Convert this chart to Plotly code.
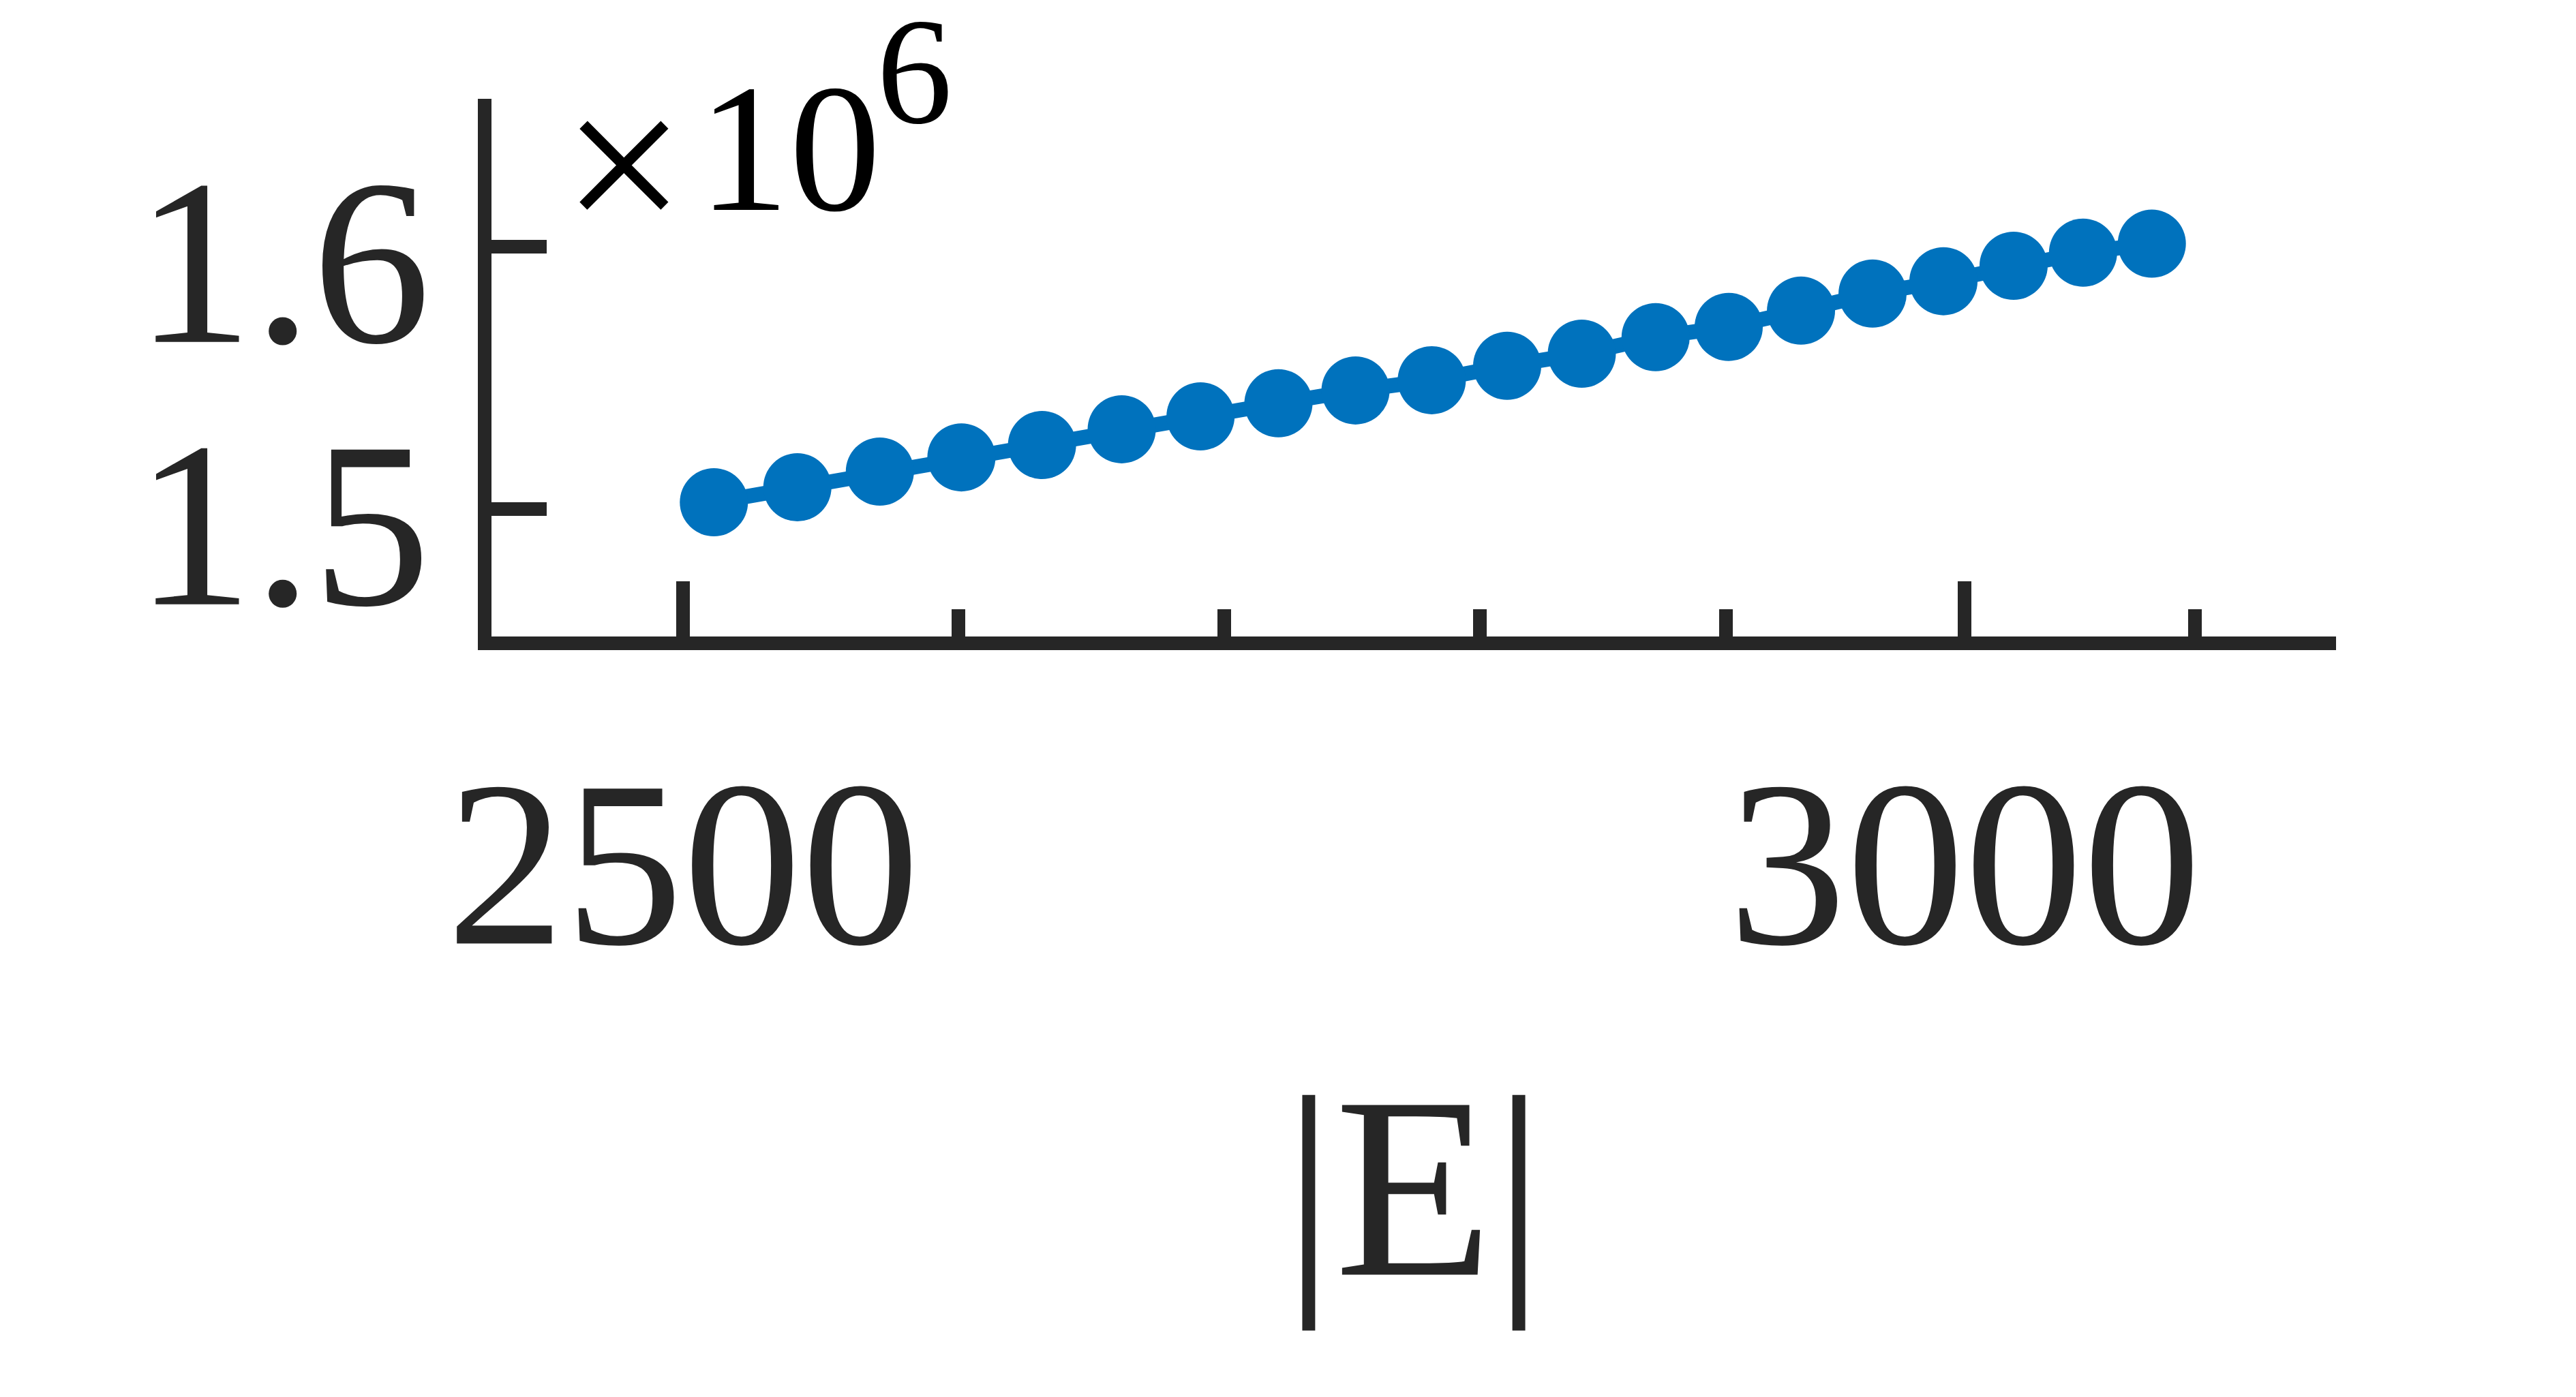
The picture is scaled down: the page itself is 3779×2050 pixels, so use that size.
import plotly.graph_objects as go

# |E| values (log x axis) and the plotted quantity (linear y axis, x 10^6)
edges = [2511, 2541, 2571, 2601, 2631, 2661, 2691, 2721, 2751, 2781,
         2811, 2841, 2871, 2901, 2931, 2961, 2991, 3021, 3051, 3081]
values = [1.5027e6, 1.5084e6, 1.5144e6, 1.5198e6, 1.5245e6, 1.5305e6, 1.5354e6,
          1.5404e6, 1.5453e6, 1.5492e6, 1.5547e6, 1.5593e6, 1.5656e6, 1.5695e6,
          1.5757e6, 1.5822e6, 1.5869e6, 1.5928e6, 1.5978e6, 1.6012e6]

x_ticks = [2500, 3000]
x_tick_labels = ["2500", "3000"]
x_minor_ticks = [2600, 2700, 2800, 2900, 3100]
y_ticks = [1.5e6, 1.6e6]
y_tick_labels = ["1.5", "1.6"]

serif = "Liberation Serif, Times New Roman, serif"
axis_col = "#262626"
blue = "#0072BD"

trace = go.Scatter(x=edges, y=values, mode="lines+markers",
                   line=dict(color=blue, width=22),
                   marker=dict(color=blue, size=100, line=dict(color=blue, width=0)),
                   showlegend=False)

fig = go.Figure(data=[trace])

# the page body adds an 8px margin, so the margins are shifted by that much
fig.update_layout(
    width=3779, height=2050,
    margin=dict(l=713, r=360, t=137, b=1124, autoexpand=False),
    paper_bgcolor="white", plot_bgcolor="white",
    font=dict(family=serif, color=axis_col),
    xaxis=dict(type="log", range=[3.386105, 3.500075],
               tickmode="array", tickvals=x_ticks, ticktext=x_tick_labels,
               ticks="inside", ticklen=81, tickwidth=20, tickcolor=axis_col,
               minor=dict(tickmode="array", tickvals=x_minor_ticks, ticks="inside",
                          ticklen=40, tickwidth=20, tickcolor=axis_col, showgrid=False),
               showline=True, linewidth=20, linecolor=axis_col,
               showgrid=False, zeroline=False, automargin=False,
               tickfont=dict(family=serif, size=347, color=axis_col),
               ticklabelstandoff=14,
               title=dict(text="|E|", font=dict(family=serif, size=380, color=axis_col),
                          standoff=155)),
    yaxis=dict(range=[1.45156e6, 1.65639e6],
               tickmode="array", tickvals=y_ticks, ticktext=y_tick_labels,
               ticks="inside", ticklen=81, tickwidth=20, tickcolor=axis_col,
               showline=True, linewidth=20, linecolor=axis_col,
               showgrid=False, zeroline=False, automargin=False,
               tickfont=dict(family=serif, size=347, color=axis_col),
               ticklabelstandoff=0, ticklabelshift=18),
)

# exponent label of the y axis: "×", "10" and the superscript "6"
fig.add_annotation(text="\u00d7", xref="paper", yref="paper", x=0.0717, y=0.878,
                   xanchor="center", yanchor="middle", showarrow=False,
                   font=dict(family=serif, size=320, color="black"))
fig.add_annotation(text="10", xref="paper", yref="paper", x=0.1112, y=0.9075,
                   xanchor="left", yanchor="middle", showarrow=False,
                   font=dict(family=serif, size=268, color="black"))
fig.add_annotation(text="6", xref="paper", yref="paper", x=0.2081, y=1.0507,
                   xanchor="left", yanchor="middle", showarrow=False,
                   font=dict(family=serif, size=222, color="black"))

fig.write_html("out.html")
